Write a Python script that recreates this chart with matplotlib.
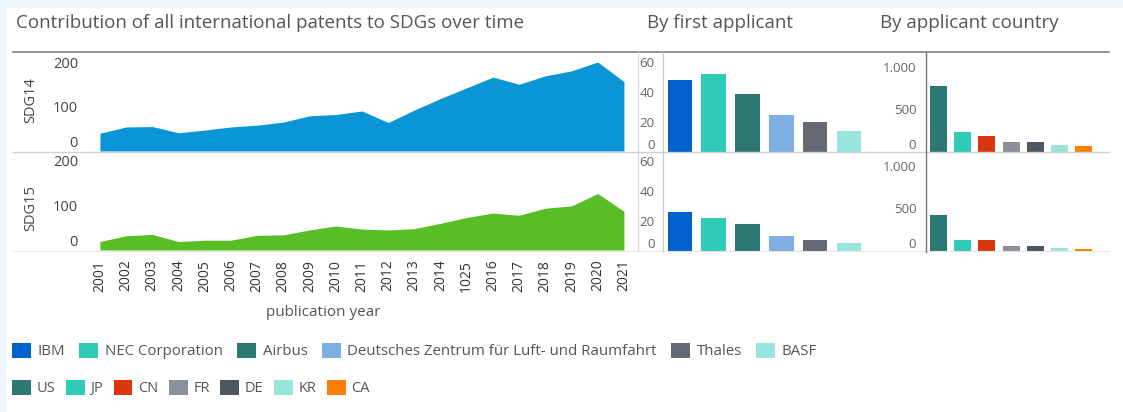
import matplotlib
matplotlib.use("Agg")
import matplotlib.pyplot as plt
from matplotlib.patches import Patch, Rectangle
from matplotlib.lines import Line2D

# ---------------- data ----------------
years = list(range(2001, 2022))
year_labels = ["2001", "2002", "2003", "2004", "2005", "2006", "2007", "2008", "2009", "2010",
               "2011", "2012", "2013", "2014", "1025", "2016", "2017", "2018", "2019", "2020", "2021"]
sdg14 = [40, 54, 55, 41, 47, 54, 58, 65, 79, 82, 90, 64, 92, 118, 142, 166, 150, 169, 180, 200, 156]
sdg15 = [19, 32, 35, 19, 22, 22, 33, 34, 45, 54, 47, 45, 48, 60, 73, 83, 78, 94, 99, 127, 87]

applicants = ["IBM", "NEC Corporation", "Airbus", "Deutsches Zentrum für Luft- und Raumfahrt", "Thales", "BASF"]
app_sdg14 = [48, 52, 39, 25, 20, 14]
app_sdg15 = [26, 22, 18, 10, 7, 5]

countries = ["US", "JP", "CN", "FR", "DE", "KR", "CA"]
cty_sdg14 = [780, 230, 190, 115, 115, 80, 70]
cty_sdg15 = [420, 130, 130, 55, 55, 35, 25]

area_ticks = [0, 100, 200]
app_ticks = [0, 20, 40, 60]
cty_ticks = [0, 500, 1000]
cty_tick_labels = ["0", "500", "1.000"]

# ---------------- styles ----------------
C_SDG14 = "#0A96D6"
C_SDG15 = "#57BE26"
app_colors = ["#0062CC", "#2ECBB8", "#2D7873", "#7DAFE3", "#636A75", "#97E6DD"]
cty_colors = ["#2D7873", "#2ECBB8", "#D9380E", "#8A9098", "#4E5660", "#97E6DD", "#FF8000"]

plt.rcParams['font.family'] = ['Open Sans', 'DejaVu Sans']
TXT = "#555555"
TICK = "#444444"

W, H = 1123, 412
fig = plt.figure(figsize=(W / 100, H / 100), dpi=100, facecolor="white")


def px_axes(x0, y0, x1, y1):
    return fig.add_axes([x0 / W, 1 - y1 / H, (x1 - x0) / W, (y1 - y0) / H])


# background strips
fig.patches.append(Rectangle((0, 1 - 8 / H), 1, 8 / H, transform=fig.transFigure,
                             facecolor="#EDF5FD", edgecolor="none", zorder=0))
fig.patches.append(Rectangle((0, 0), 6 / W, 1, transform=fig.transFigure,
                             facecolor="#EDF5FD", edgecolor="none", zorder=0))


def clean(ax):
    for s in ax.spines.values():
        s.set_visible(False)
    ax.set_facecolor("none")


def lift_zero(ax):
    labs = ax.get_yticklabels()
    labs[0].set_va("bottom")


# ---------------- area charts ----------------
area_rows = [(52, 151, sdg14, C_SDG14, "SDG14", 100), (152, 250, sdg15, C_SDG15, "SDG15", 208)]
area_axes = []
for (y0, y1, vals, col, lab, ly) in area_rows:
    ax = px_axes(85, y0, 636, y1)
    clean(ax)
    ax.fill_between(years, vals, 0, color=col, linewidth=0)
    ax.set_xlim(2000.43, 2021.46)
    ax.set_ylim(0, (y1 - y0) / 0.445)
    ax.set_yticks(area_ticks)
    ax.tick_params(axis="y", length=0, pad=5, labelsize=10.5, labelcolor=TICK)
    lift_zero(ax)
    fig.text(31 / W, 1 - ly / H, lab, rotation=90, ha="center", va="center",
             fontsize=10.5, color=TICK)
    area_axes.append(ax)

area_axes[0].set_xticks([])
area_axes[1].set_xticks(years)
area_axes[1].set_xticklabels(year_labels, rotation=90, fontsize=10, color="#333333")
area_axes[1].tick_params(axis="x", length=0, pad=7)
fig.text(323 / W, 1 - 313 / H, "publication year", ha="center", va="center",
         fontsize=11, color=TXT)

# ---------------- applicant bars ----------------
app_rows = [(52, 152, app_sdg14), (152, 251, app_sdg15)]
for (y0, y1, vals) in app_rows:
    ax = px_axes(663, y0, 875, y1)
    clean(ax)
    ax.bar(range(len(vals)), vals, width=0.73, color=app_colors)
    ax.set_xlim(-0.5, 5.77)
    ax.set_ylim(0, (y1 - y0) / 1.5)
    ax.set_yticks(app_ticks)
    ax.set_xticks([])
    ax.tick_params(axis="y", length=0, pad=6, labelsize=9.5, labelcolor="#666666")
    lift_zero(ax)

# ---------------- country bars ----------------
cty_rows = [(52, 152, cty_sdg14), (152, 251, cty_sdg15)]
for (y0, y1, vals) in cty_rows:
    ax = px_axes(926, y0, 1109, y1)
    clean(ax)
    ax.bar(range(len(vals)), vals, width=0.7, color=cty_colors)
    ax.set_xlim(-0.5, 7.03)
    ax.set_ylim(0, (y1 - y0) / 0.085)
    ax.set_yticks(cty_ticks, labels=cty_tick_labels)
    ax.set_xticks([])
    ax.tick_params(axis="y", length=0, pad=7, labelsize=9.5, labelcolor="#666666")
    lift_zero(ax)

# ---------------- frame lines ----------------
def hline(y, x0, x1, color, lw):
    fig.add_artist(Line2D([x0 / W, x1 / W], [1 - y / H, 1 - y / H], transform=fig.transFigure,
                          color=color, linewidth=lw, zorder=5))


def vline(x, y0, y1, color, lw):
    fig.add_artist(Line2D([x / W, x / W], [1 - y0 / H, 1 - y1 / H], transform=fig.transFigure,
                          color=color, linewidth=lw, zorder=5))


hline(52, 13, 1109, "#8C8C8C", 1.3)
hline(152, 13, 1109, "#D0D0D0", 1.0)
hline(251, 13, 1109, "#E6E6E6", 0.8)
vline(638, 52, 251, "#D8D8D8", 0.9)
vline(663, 52, 251, "#C8C8C8", 0.9)
vline(926, 52, 252, "#777777", 1.0)

# ---------------- titles ----------------
fig.text(16 / W, 1 - 23 / H, "Contribution of all international patents to SDGs over time",
         ha="left", va="center", fontsize=13.5, color=TXT)
fig.text(647 / W, 1 - 23 / H, "By first applicant", ha="left", va="center", fontsize=13.5, color=TXT)
fig.text(880 / W, 1 - 23 / H, "By applicant country", ha="left", va="center", fontsize=13.5, color=TXT)

# ---------------- legends ----------------
base_kw = dict(loc="center left", frameon=False, borderaxespad=0, borderpad=0, labelcolor=TXT)
h1 = [Patch(facecolor=c, edgecolor="none", label=l) for c, l in zip(app_colors, applicants)]
fig.legend(handles=h1, ncol=len(h1), bbox_to_anchor=(12 / W, 1 - 351 / H),
           fontsize=10.8, handlelength=1.25, handleheight=1.25, handletextpad=0.45,
           columnspacing=0.95, **base_kw)
h2 = [Patch(facecolor=c, edgecolor="none", label=l) for c, l in zip(cty_colors, countries)]
fig.legend(handles=h2, ncol=len(h2), bbox_to_anchor=(12 / W, 1 - 388 / H),
           fontsize=10.5, handlelength=1.3, handleheight=1.3, handletextpad=0.4,
           columnspacing=0.7, **base_kw)

fig.savefig("out.png", dpi=100, facecolor="white")
